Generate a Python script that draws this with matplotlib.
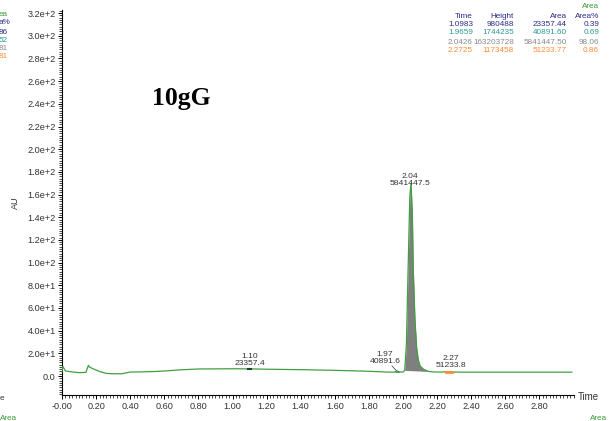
import matplotlib
matplotlib.use("Agg")
import matplotlib.pyplot as plt
from matplotlib.ticker import MultipleLocator, FixedLocator

# ---- data ----
time_pts = [0.00, 0.005, 0.02, 0.05, 0.10, 0.14, 0.155, 0.16, 0.18, 0.22, 0.26, 0.30, 0.35,
            0.40, 0.45, 0.50, 0.55, 0.60, 0.70, 0.80, 0.90, 1.00, 1.10, 1.20, 1.30,
            1.40, 1.50, 1.60, 1.70, 1.80, 1.90, 1.95, 1.965, 1.98, 2.00, 2.01,
            2.02, 2.03, 2.04, 2.047, 2.055, 2.06, 2.07, 2.08, 2.09, 2.10, 2.12,
            2.15, 2.18, 2.22, 2.27, 2.30, 2.35, 2.40, 2.50, 2.60, 2.70, 2.80, 2.90, 2.99]
signal = [4.0, 8.5, 4.5, 3.8, 3.0, 3.2, 9.5, 8.0, 6.5, 4.0, 2.3, 2.0, 2.0,
          3.5, 3.6, 3.8, 4.0, 4.4, 5.5, 6.2, 6.3, 6.4, 6.3, 6.0, 5.8,
          5.6, 5.3, 5.0, 4.6, 4.2, 3.5, 3.4, 4.5, 3.6, 3.5, 5.0,
          28.0, 95.0, 158.0, 170.0, 142.0, 95.0, 50.0, 25.0, 14.0, 9.0, 6.0,
          4.0, 3.6, 3.5, 3.8, 3.5, 3.4, 3.4, 3.4, 3.4, 3.4, 3.4, 3.4, 3.4]

peak_times = ["1.0983", "1.9659", "2.0426", "2.2725"]
peak_heights = ["980488", "1744235", "163203728", "1173458"]
peak_areas = ["23357.44", "40891.60", "5841447.50", "51233.77"]
peak_pcts = ["0.39", "0.69", "98.06", "0.86"]
row_colors = ["#2b2b8c", "#2a9d8f", "#8a8a8a", "#ff8c3a"]

label_pos = [1.10, 1.895, 2.04, 2.28]
label_y = [8.0, 10.0, 167.0, 6.0]
label_txt = ["1.10\n23357.4", "1.97\n40891.6", "2.04\n5841447.5", "2.27\n51233.8"]

ytick_vals = [0, 20, 40, 60, 80, 100, 120, 140, 160, 180, 200, 220, 240, 260, 280, 300, 320]
xtick_vals = [0.0, 0.2, 0.4, 0.6, 0.8, 1.0, 1.2, 1.4, 1.6, 1.8, 2.0, 2.2, 2.4, 2.6, 2.8]


def ylab(v):
    if v == 0:
        return "0.0"
    e = 0
    m = v
    while abs(m) >= 10:
        m /= 10
        e += 1
    return f"{m:.1f}e+{e}"


plt.rcParams['font.family'] = ['Liberation Sans', 'DejaVu Sans']
fig = plt.figure(figsize=(6.12, 4.21), dpi=100)
ax = fig.add_axes([62 / 612, (421 - 395.3) / 421, (573.5 - 62) / 612, (395.3 - 9.7) / 421])
ax.set_xlim(0, 3.0)
ax.set_ylim(-17, 323)

green = "#3f9f3f"
ax.plot(time_pts, signal, color=green, lw=0.9, zorder=3)

# grey filled main peak
i0 = time_pts.index(2.01)
i1 = time_pts.index(2.15)
xs = time_pts[i0:i1 + 1]
ys = signal[i0:i1 + 1]
base = [signal[i0] + (signal[i1] - signal[i0]) * (t - xs[0]) / (xs[-1] - xs[0]) for t in xs]
ax.fill_between(xs, base, ys, color="#7f7f7f", zorder=2, lw=0)

# small integrated peaks
j0, j1 = time_pts.index(1.95), time_pts.index(1.98)
ax.fill_between(time_pts[j0:j1 + 1], [3.3] * (j1 - j0 + 1), signal[j0:j1 + 1], color="#1f6f5f", lw=0, zorder=2)
ax.plot([2.25, 2.29], [3.8, 3.8], color="#ff8c3a", lw=2.0, zorder=4)
ax.plot([1.09, 1.11], [6.3, 6.3], color="#1f3f2f", lw=1.5, zorder=4)

for x, y, t in zip(label_pos, label_y, label_txt):
    ax.text(x, y, t, ha="center", va="bottom", fontsize=6.1, color="#333333", linespacing=1.0)
ax.plot([1.935, 1.962], [9.0, 4.5], color="#333333", lw=0.5)

for s in ["top", "right"]:
    ax.spines[s].set_visible(False)
ax.spines["left"].set_linewidth(0.8)
ax.spines["bottom"].set_linewidth(0.8)

ax.yaxis.set_major_locator(FixedLocator(ytick_vals))
ax.set_yticklabels([ylab(v) for v in ytick_vals])
ax.yaxis.set_minor_locator(MultipleLocator(2))
ax.xaxis.set_major_locator(FixedLocator(xtick_vals))
ax.set_xticklabels(["-0.00"] + [f"{v:.2f}" for v in xtick_vals[1:]])
ax.xaxis.set_minor_locator(MultipleLocator(0.02))
ax.tick_params(axis="both", which="major", labelsize=6.6, length=3, width=0.7, pad=1.5, labelcolor="#333333")
ax.tick_params(axis="both", which="minor", length=2, width=0.5)

ax.set_ylabel("AU", fontsize=6.5, color="#333333")
ax.yaxis.set_label_coords(-0.082, 0.5)
fig.text(578 / 612, 1 - 397 / 421, "Time", fontsize=7.0, color="#333333", va="center", ha="left")

fig.text(152 / 612, 1 - 105 / 421, "10gG", fontsize=18.5, fontweight="bold",
         family=["Liberation Serif", "DejaVu Serif"], ha="left", va="baseline")

# peak table, top right
tfs = 5.9
col_x = [473, 514, 567, 599]
fig.text(599 / 612, 1 - 7 / 421, "Area", fontsize=tfs, color="#3a9a3a", ha="right", va="center")
for cx, h in zip(col_x, ["Time", "Height", "Area", "Area%"]):
    fig.text(cx / 612, 1 - 16 / 421, h, fontsize=tfs, color="#2b2b8c", ha="right", va="center")
rows = list(zip(peak_times, peak_heights, peak_areas, peak_pcts))
for r, (row, col) in enumerate(zip(rows, row_colors)):
    yy = 24 + r * 9
    for cx, v in zip(col_x, row):
        fig.text(cx / 612, 1 - yy / 421, v, fontsize=tfs, color=col, ha="right", va="center")

# fragments of neighbouring panels at the edges
frag = [("ea", 15, "#3a9a3a"), ("a%", 23, "#2b2b8c"), ("86", 32, "#2b2b8c"),
        ("52", 40, "#2a9d8f"), ("81", 49, "#8a8a8a"), ("81", 57, "#ff8c3a")]
for t, yy, c in frag:
    fig.text(-1 / 612, 1 - yy / 421, t, fontsize=tfs, color=c, ha="left", va="center")
fig.text(0 / 612, 1 - 398 / 421, "e", fontsize=tfs, color="#333333", ha="left", va="center")
fig.text(0 / 612, 1 - 419 / 421, "Area", fontsize=tfs, color="#3a9a3a", ha="left", va="center")
fig.text(590 / 612, 1 - 419 / 421, "Area", fontsize=tfs, color="#3a9a3a", ha="left", va="center")

fig.savefig("out.png", dpi=100)
